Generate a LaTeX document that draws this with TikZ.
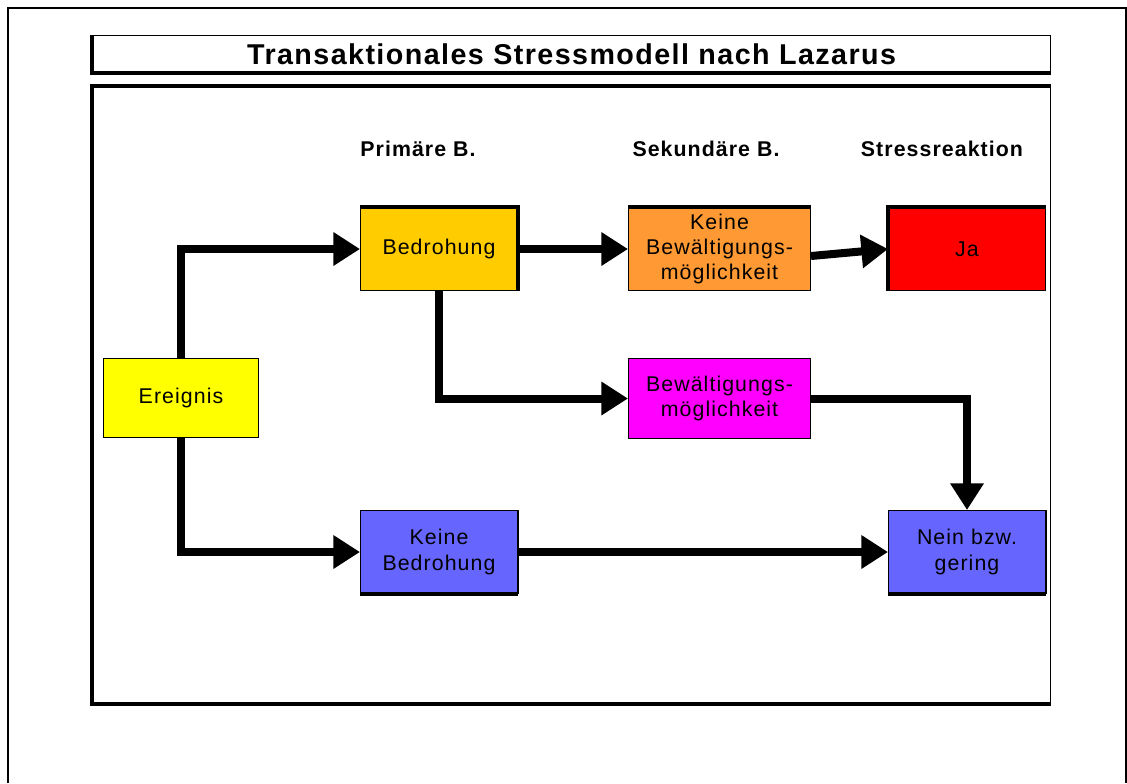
\documentclass[tikz,border=0pt]{standalone}
\usepackage{fontspec}
\setmainfont{Liberation Sans}
\newfontfamily\bodyfont[LetterSpace=5]{Liberation Sans}
\newfontfamily\titlefont[LetterSpace=5]{Liberation Sans}
\usetikzlibrary{arrows.meta}
\definecolor{cEreignis}{HTML}{FFFF00}
\definecolor{cBedrohung}{HTML}{FFCC00}
\definecolor{cKeineBew}{HTML}{FF9933}
\definecolor{cJa}{HTML}{FF0000}
\definecolor{cBew}{HTML}{FF00FF}
\definecolor{cBlue}{HTML}{6666FF}
\begin{document}
\begin{tikzpicture}[x=0.75pt,y=-0.75pt,
  box/.style={draw=black, line width=0.75pt, minimum width=117.75pt, minimum height=62.25pt,
    inner sep=0pt, align=center, font=\bodyfont\fontsize{16}{19}\selectfont, anchor=north west},
  wide/.style={minimum width=136.5pt},
  thk/.style={line width=3pt},
  conn/.style={line width=6pt, -{Triangle[length=20pt,width=24pt]}},
  hdr/.style={font=\bodyfont\bfseries\fontsize{16}{18}\selectfont},
  frame/.style={draw=black, line width=0.9pt, inner sep=0pt, anchor=north west}]

\useasboundingbox (0,0) rectangle (1127,783);
% outer border
\draw[line width=0.9pt] (8,783) -- (8,8) -- (1126,8) -- (1126,783);

% title box
\node[frame, minimum width=718.5pt, minimum height=27.75pt,
      font=\titlefont\bfseries\fontsize{21.5}{24}\selectfont] (title) at (92,35) {Transaktionales Stressmodell nach Lazarus};
\draw[thk] (title.north west) -- (title.south west) -- (title.south east);

% main frame
\node[frame, minimum width=718.5pt, minimum height=462.75pt] (frame) at (92,86) {};
\draw[thk] (frame.north east) -- (frame.north west) -- (frame.south west) -- (frame.south east);

% headers
\node[hdr] (h1) at (418,149) {Primäre B.};
\node[hdr] (h2) at (706,149) {Sekundäre B.};
\node[hdr] (h3) at (942,149) {Stressreaktion};

% boxes
\node[box, fill=cEreignis, minimum width=116.25pt, minimum height=59.25pt] (E) at (103,358) {Ereignis};
\node[box, fill=cBedrohung] (B) at (360,207) {Bedrohung};
\node[box, wide, fill=cKeineBew] (KB) at (628,207) {Keine\\Bewältigungs-\\möglichkeit};
\node[box, fill=cJa] (Ja) at (888,207) {Ja};
\node[box, wide, fill=cBew, minimum height=60pt] (Bw) at (628,358) {Bewältigungs-\\möglichkeit};
\node[box, fill=cBlue] (KBd) at (360,510) {Keine\\Bedrohung};
\node[box, fill=cBlue] (N) at (888,510) {Nein bzw.\\gering};

% shadow edges
\draw[thk] (B.south east) -- (B.north east) -- (B.north west);
\draw[thk] (KB.north west) -- (KB.north east);
\draw[thk] (Ja.south west) -- (Ja.north west) -- (Ja.north east);
\draw[thk] (KBd.south west) -- (KBd.south east);
\draw[line width=1.5pt] (KBd.south east) -- (KBd.north east);
\draw[thk] (N.south west) -- (N.south east);
\draw[line width=1.5pt] (N.south east) -- (N.north east);

% connectors
\draw[conn] (E.north) |- (B.west);
\draw[conn] (E.south) |- (KBd.west);
\draw[conn] (B.east) -- (KB.west);
\draw[conn] ([yshift=-5.25pt]KB.east) -- (Ja.west);
\draw[conn] (B.south) |- (Bw.west);
\draw[conn] (Bw.east) -| (N.north);
\draw[conn] (KBd.east) -- (N.west);
\end{tikzpicture}
\end{document}
